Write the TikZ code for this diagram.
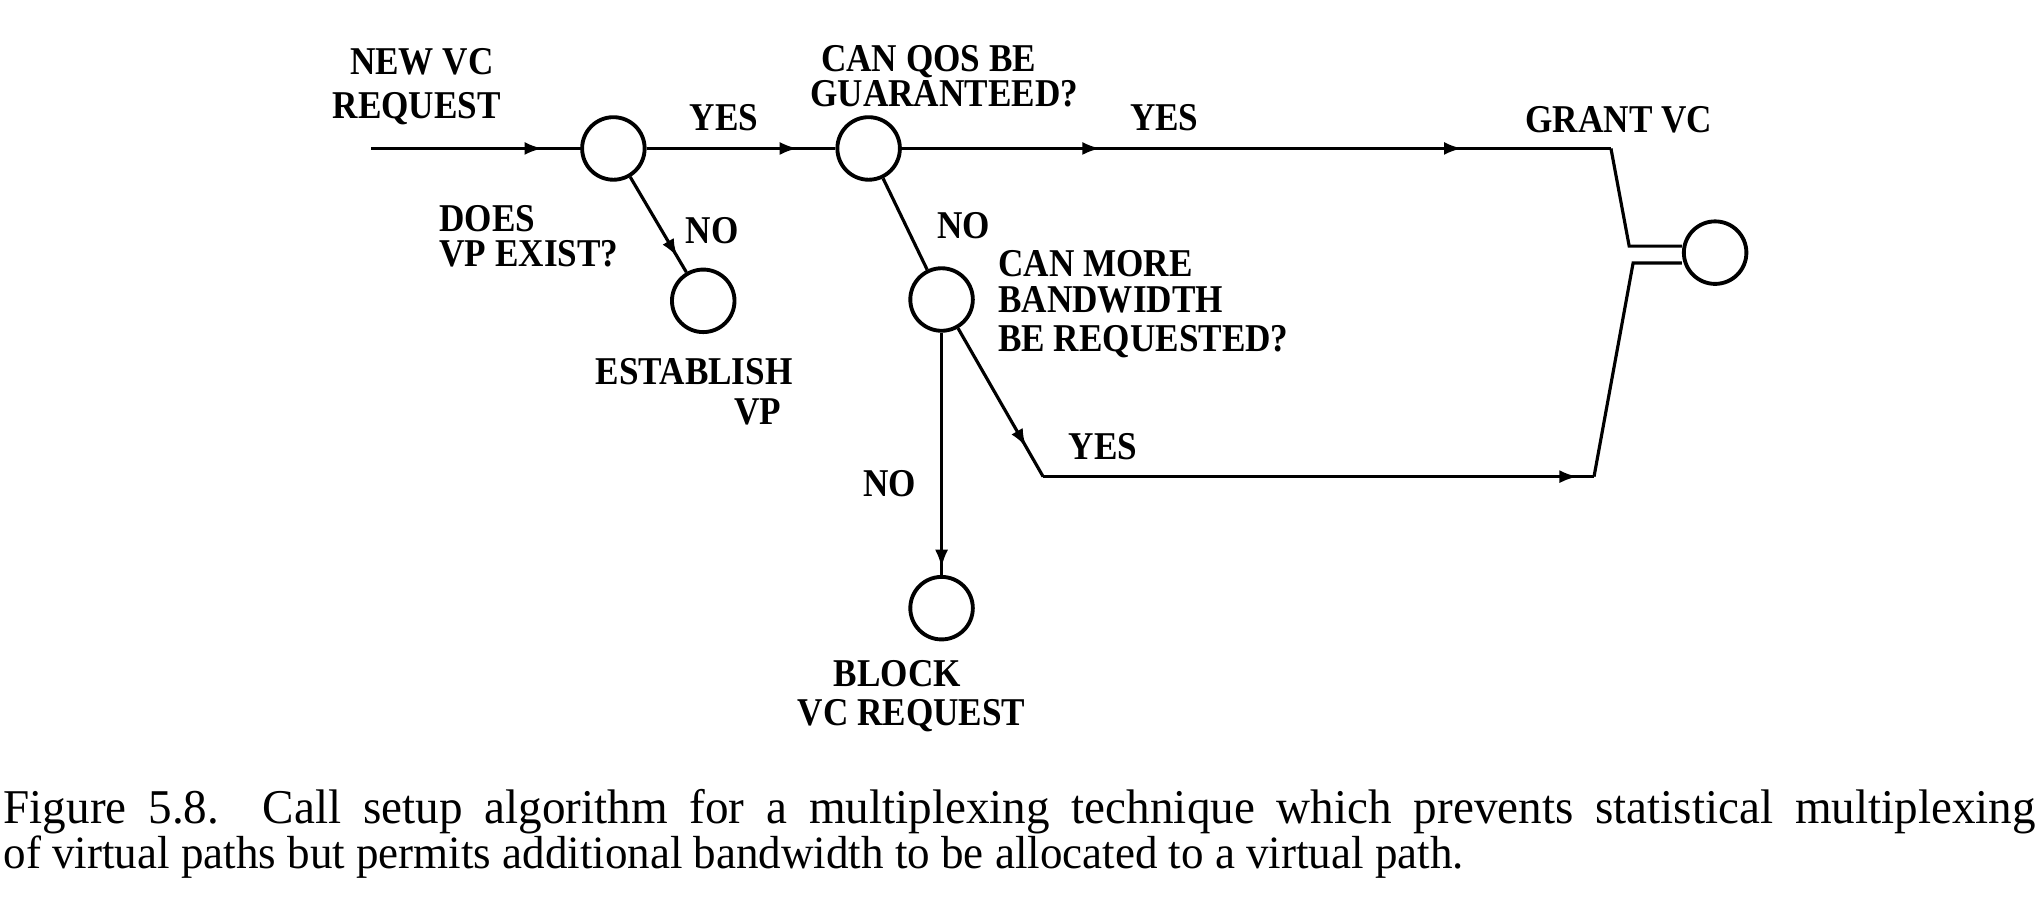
\documentclass[tikz,border=0pt]{standalone}
\usepackage{fontspec}
\setmainfont{Liberation Serif}
\usetikzlibrary{arrows.meta,decorations.markings}
\newcommand\vstretch[1]{\scalebox{1}[1.12]{#1}}
\newcommand\capstretch[1]{\scalebox{1}[1.03]{#1}}
\begin{document}
\begin{tikzpicture}[x=0.01302cm,y=-0.01302cm,
  lab/.style={inner sep=0pt,text height=7.4pt,text depth=0pt,font=\bfseries\fontsize{10}{12}\selectfont},
  state/.style={circle,draw,line width=1.1pt,minimum size=0.625cm,inner sep=0pt},
  flow/.style={line width=0.9pt},
  am/.style={postaction={decorate,decoration={markings,mark=at position #1 with {\arrow{Latex[length=1.8mm,width=1.3mm]}}}}},
  capt/.style={inner sep=0pt,anchor=base west,font=\fontsize{12.8}{15}\selectfont}
]
\useasboundingbox (0,0) rectangle (1568,701);

% states
\node[state] (c1) at (471,114) {};
\node[state] (c2) at (667,114) {};
\node[state] (est) at (540,231) {};
\node[state] (c3) at (723,230) {};
\node[state] (c4) at (723,467) {};
\node[state] (grant) at (1317,194) {};

% bends
\coordinate (in) at (285,114);
\coordinate (tr) at (1237,114);
\coordinate (gu) at (1251,189);
\coordinate (gl) at (1254,202);
\coordinate (br) at (1224,366);
\coordinate (bc) at (801,366);

% connectors
\draw[flow,am=0.82] (in) -- (c1);
\draw[flow,am=0.8] (c1) -- (c2);
\draw[flow,am=0.28,am=0.79] (c2) -- (tr);
\draw[flow] (tr) -- (gu) -- (gu -| grant.west);
\draw[flow,am=0.84] (c1) -- (est);
\draw[flow] (c2) -- (c3);
\draw[flow,am=0.97] (c3) -- (c4);
\draw[flow,am=0.8] (c3) -- (bc);
\draw[flow,am=0.97] (bc) -- (br);
\draw[flow] (br) -- (gl) -- (gl -| grant.west);

% labels
\node[lab] (l1) at (324,47) {\vstretch{NEW VC}};
\node[lab] (l2) at (320,81) {\vstretch{REQUEST}};
\node[lab] (l3) at (556,90) {\vstretch{YES}};
\node[lab] (l4) at (713,45) {\vstretch{CAN QOS BE}};
\node[lab] (l5) at (725,72) {\vstretch{GUARANTEED?}};
\node[lab] (l6) at (894,90) {\vstretch{YES}};
\node[lab] (l7) at (1243,92) {\vstretch{GRANT VC}};
\node[lab,anchor=west] (l8) at (337,168) {\vstretch{DOES}};
\node[lab,anchor=west] (l9) at (337,195) {\vstretch{VP EXIST?}};
\node[lab] (l10) at (547,177) {\vstretch{NO}};
\node[lab] (l11) at (740,173) {\vstretch{NO}};
\node[lab] (l12) at (533,285.5) {\vstretch{ESTABLISH}};
\node[lab] (l13) at (582,316) {\vstretch{VP}};
\node[lab,anchor=west] (l14) at (766,202) {\vstretch{CAN MORE}};
\node[lab,anchor=west] (l15) at (766,230) {\vstretch{BANDWIDTH}};
\node[lab,anchor=west] (l16) at (766,260) {\vstretch{BE REQUESTED?}};
\node[lab] (l17) at (683,371) {\vstretch{NO}};
\node[lab] (l18) at (847,343) {\vstretch{YES}};
\node[lab] (l19) at (689,517) {\vstretch{BLOCK}};
\node[lab] (l20) at (700,547) {\vstretch{VC REQUEST}};

% caption
\node[capt,font=\fontsize{13.4}{15}\selectfont] (cap1) at (2.3,632) {\capstretch{\makebox[20.31cm][s]{Figure 5.8.\ \ Call setup algorithm for a multiplexing technique which prevents statistical multiplexing}}};
\node[capt] (cap2) at (2.3,667) {\capstretch{of virtual paths but permits additional bandwidth to be allocated to a virtual path.}};
\end{tikzpicture}
\end{document}
